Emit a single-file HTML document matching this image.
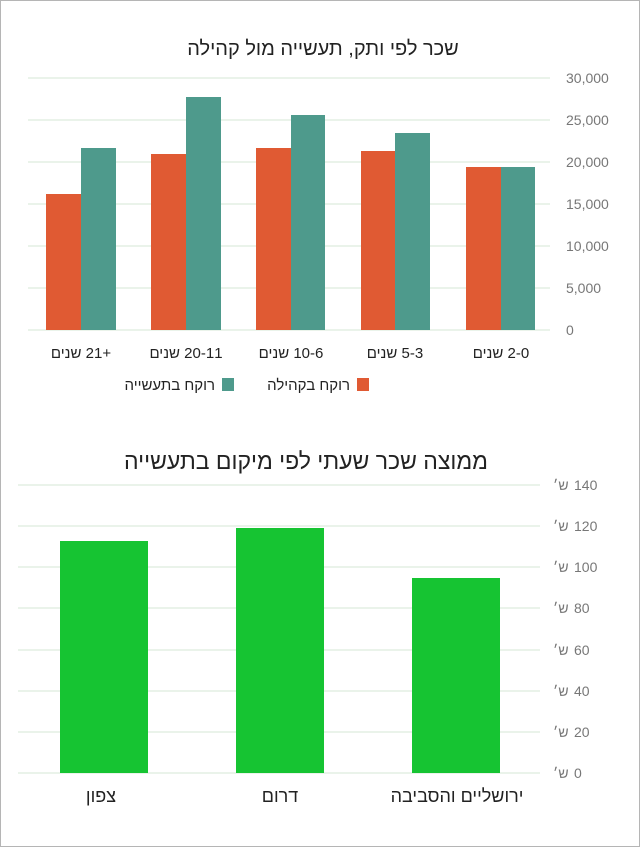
<!DOCTYPE html>
<html><head><meta charset="utf-8"><style>
html,body{margin:0;padding:0;background:#fff}
body{position:relative;width:640px;height:847px;overflow:hidden}
svg{display:block;position:absolute;left:0;top:0}
text{font-family:"Liberation Sans","Noto Sans CJK SC",sans-serif}
.xl{position:absolute;top:344px;width:100px;text-align:center;font:15px "Liberation Sans","Noto Sans CJK SC",sans-serif;color:#222;white-space:nowrap;line-height:20px}
</style></head><body>
<svg width="640" height="847" viewBox="0 0 640 847" xmlns="http://www.w3.org/2000/svg">
<rect x="0.5" y="0.5" width="639" height="846" fill="#fff" stroke="#b5b5b5"/>
<text x="323" y="55" font-size="20" text-anchor="middle" fill="#222" direction="rtl">שכר לפי ותק, תעשייה מול קהילה</text>
<g stroke="#e3efe3" stroke-width="1.5">
<line x1="28" x2="550" y1="78" y2="78"/><line x1="28" x2="550" y1="120" y2="120"/>
<line x1="28" x2="550" y1="162" y2="162"/><line x1="28" x2="550" y1="204" y2="204"/>
<line x1="28" x2="550" y1="246" y2="246"/><line x1="28" x2="550" y1="288" y2="288"/>
<line x1="28" x2="550" y1="330" y2="330"/>
</g>
<g font-size="14" fill="#777">
<text x="566" y="83">30,000</text><text x="566" y="125">25,000</text><text x="566" y="167">20,000</text>
<text x="566" y="209">15,000</text><text x="566" y="251">10,000</text><text x="566" y="293">5,000</text><text x="566" y="335">0</text>
</g>
<g fill="#e05a33">
<rect x="46" y="194" width="35" height="136"/><rect x="151" y="154" width="35" height="176"/>
<rect x="256" y="148" width="35" height="182"/><rect x="361" y="151" width="34" height="179"/>
<rect x="466" y="167" width="35" height="163"/>
</g>
<g fill="#4e9a8c">
<rect x="81" y="148" width="35" height="182"/><rect x="186" y="97" width="35" height="233"/>
<rect x="291" y="115" width="34" height="215"/><rect x="395" y="133" width="35" height="197"/>
<rect x="501" y="167" width="34" height="163"/>
</g>
<rect x="357" y="378" width="12" height="13" fill="#e05a33"/>
<text x="350" y="390" font-size="15" fill="#222" direction="rtl" style="text-anchor:start">רוקח בקהילה</text>
<rect x="222" y="378" width="12" height="13" fill="#4e9a8c"/>
<text x="215" y="390" font-size="15" fill="#222" direction="rtl" style="text-anchor:start">רוקח בתעשייה</text>
<text x="306" y="469" font-size="23" text-anchor="middle" fill="#222" direction="rtl">ממוצה שכר שעתי לפי מיקום בתעשייה</text>
<g stroke="#e3efe3" stroke-width="1.5">
<line x1="18" x2="540" y1="485" y2="485"/><line x1="18" x2="540" y1="526" y2="526"/>
<line x1="18" x2="540" y1="567" y2="567"/><line x1="18" x2="540" y1="608" y2="608"/>
<line x1="18" x2="540" y1="650" y2="650"/><line x1="18" x2="540" y1="691" y2="691"/>
<line x1="18" x2="540" y1="732" y2="732"/><line x1="18" x2="540" y1="773" y2="773"/>
</g>
<g font-size="14" fill="#777">
<text x="553" y="490">ש׳</text><text x="574" y="490">140</text>
<text x="553" y="531">ש׳</text><text x="574" y="531">120</text>
<text x="553" y="572">ש׳</text><text x="574" y="572">100</text>
<text x="553" y="613">ש׳</text><text x="574" y="613">80</text>
<text x="553" y="655">ש׳</text><text x="574" y="655">60</text>
<text x="553" y="696">ש׳</text><text x="574" y="696">40</text>
<text x="553" y="737">ש׳</text><text x="574" y="737">20</text>
<text x="553" y="778">ש׳</text><text x="574" y="778">0</text>
</g>
<g fill="#16c432">
<rect x="60" y="541" width="88" height="232"/>
<rect x="236" y="528" width="88" height="245"/>
<rect x="412" y="578" width="88" height="195"/>
</g>
<g font-size="18" fill="#222" text-anchor="middle" direction="rtl">
<text x="101" y="802">צפון</text><text x="280" y="802">דרום</text><text x="457" y="802">ירושליים והסביבה</text>
</g>
</svg>
<div class="xl" dir="rtl" style="left:31px">+21 שנים</div>
<div class="xl" dir="rtl" style="left:136px">20-11 שנים</div>
<div class="xl" dir="rtl" style="left:241px">10-6 שנים</div>
<div class="xl" dir="rtl" style="left:345px">5-3 שנים</div>
<div class="xl" dir="rtl" style="left:451px">2-0 שנים</div>
</body></html>
